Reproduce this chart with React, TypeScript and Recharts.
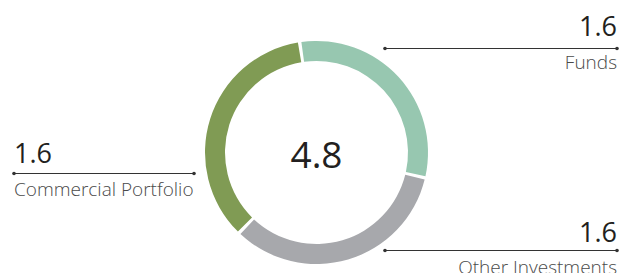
import React from "react";
import { PieChart, Pie, Cell, Label } from "recharts";

// Data
const categories = ["Funds", "Other Investments", "Commercial Portfolio"];
const sliceValues = [1.49, 1.61, 1.7]; // slice sizes as drawn
const labelValues = ["1.6", "1.6", "1.6"]; // values printed on the chart
const totalLabel = "4.8";
const colors = ["#97c7b0", "#a7a8ac", "#809b54"];

const data = categories.map((name, i) => ({ name, value: sliceValues[i], label: labelValues[i] }));

// Label layout (positions only)
const labelLayout = [
  { x1: 385, x2: 617, lineY: 48.5, valueY: 36, nameY: 68.5, anchor: "end" as const },
  { x1: 385, x2: 617, lineY: 250.5, valueY: 241.5, nameY: 274, anchor: "end" as const },
  { x1: 14, x2: 194, lineY: 173.5, valueY: 163, nameY: 195.5, anchor: "start" as const },
];

const FONT = "'Open Sans', 'Noto Sans', sans-serif";

const renderLabel = (props: any) => {
  const i = props.index as number;
  const L = labelLayout[i];
  const d = data[i];
  const tx = L.anchor === "end" ? L.x2 : L.x1;
  return (
    <g key={`lbl-${i}`}>
      <line x1={L.x1} y1={L.lineY} x2={L.x2} y2={L.lineY} stroke="#333" strokeWidth={1} />
      <circle cx={L.x1} cy={L.lineY} r={1.8} fill="#333" />
      <circle cx={L.x2} cy={L.lineY} r={1.8} fill="#333" />
      <text x={tx} y={L.valueY} textAnchor={L.anchor} fontFamily={FONT} fontSize={27} fill="#231f20">
        {d.label}
      </text>
      <text x={tx} y={L.nameY} textAnchor={L.anchor} fontFamily={FONT} fontSize={19} fontWeight={300} fill="#4a4a4a">
        {d.name}
      </text>
    </g>
  );
};

export default function App() {
  return (
    <div style={{ position: "absolute", left: 0, top: 0 }}>
      <PieChart width={621} height={273} margin={{ top: 0, right: 0, bottom: 0, left: 0 }}>
        <Pie
          data={data}
          dataKey="value"
          nameKey="name"
          cx={316.5}
          cy={152.5}
          innerRadius={91.5}
          outerRadius={111.5}
          startAngle={97.8}
          endAngle={97.8 - 360}
          paddingAngle={1.8}
          stroke="none"
          label={renderLabel}
          labelLine={false}
          isAnimationActive={false}
        >
          {data.map((d, i) => (
            <Cell key={d.name} fill={colors[i]} />
          ))}
          <Label
            position="center"
            content={(p: any) => {
              const vb = p.viewBox || {};
              const cx = vb.cx ?? 316.5;
              const cy = vb.cy ?? 152.5;
              return (
                <text x={cx} y={cy + 15.5} textAnchor="middle" fontFamily={FONT} fontSize={37} fill="#231f20">
                  {totalLabel}
                </text>
              );
            }}
          />
        </Pie>
      </PieChart>
    </div>
  );
}
